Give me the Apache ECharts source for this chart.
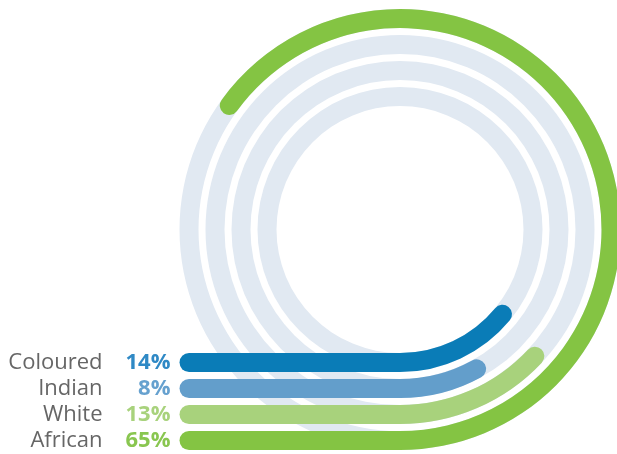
<!DOCTYPE html>
<html>
<head>
<meta charset="utf-8">
<title>Population groups</title>
<script src="https://cdn.jsdelivr.net/npm/echarts@6/dist/echarts.min.js"></script>
<style>
  html, body { margin: 0; padding: 0; background: #ffffff; }
  #chart { width: 617px; height: 454px; }
</style>
</head>
<body>
<div id="chart"></div>
<script>
// Population groups, innermost ring first
const categories = ['Coloured', 'Indian', 'White', 'African'];
// Share of each group, in percent of a full turn
const shares = [14, 8, 13, 65];

// Styling
const palette = ['#0a7cb7', '#639ecb', '#a8d27c', '#84c443'];
const labelPalette = ['#2f89c5', '#66a1cf', '#a8d27c', '#89c650'];
const trackColor = '#e1e9f2';
const nameColor = '#666666';
const fontFamily = 'Open Sans, Lato, sans-serif';

const cx = 400, cy = 229.5;      // ring centre
const rInner = 120, band = 26;   // ring layout
const ringWidth = 19;

const richStyles = {
  n: { color: nameColor, fontSize: 22, fontFamily: fontFamily, padding: [0, 10, 0, 0] }
};
labelPalette.forEach((c, i) => {
  richStyles['p' + i] = {
    color: c, fontSize: 22, fontWeight: 'bold', fontFamily: fontFamily,
    width: 58, align: 'right'
  };
});

const chart = echarts.init(document.getElementById('chart'), null, { renderer: 'canvas' });

chart.setOption({
  animation: false,
  backgroundColor: '#ffffff',
  polar: {
    center: [cx, cy],
    radius: [rInner, rInner + band * categories.length]
  },
  angleAxis: {
    type: 'value',
    min: 0,
    max: 100,
    startAngle: 270,
    clockwise: false,
    show: false
  },
  radiusAxis: {
    type: 'category',
    data: categories,
    show: false
  },
  grid: {
    left: 179.5,
    right: 617 - cx,
    top: cy + rInner,
    height: band * categories.length,
    containLabel: false
  },
  xAxis: {
    type: 'value',
    min: 0,
    max: 1,
    show: false
  },
  yAxis: {
    type: 'category',
    data: categories,
    inverse: true,
    axisLine: { show: false },
    axisTick: { show: false },
    splitLine: { show: false },
    axisLabel: {
      margin: 9,
      formatter: (value, idx) => `{n|${value}}{p${idx}|${shares[idx]}%}`,
      rich: richStyles
    }
  },
  series: [
    {
      // ring arcs, starting at six o'clock and turning anticlockwise
      type: 'bar',
      coordinateSystem: 'polar',
      data: shares.map((v, i) => ({ value: v, itemStyle: { color: palette[i] } })),
      barWidth: ringWidth,
      roundCap: true,
      showBackground: true,
      backgroundStyle: { color: trackColor },
      z: 2
    },
    {
      // straight legs leading into each ring from the labels
      type: 'bar',
      data: categories.map((c, i) => ({ value: 1, itemStyle: { color: palette[i] } })),
      barWidth: ringWidth,
      itemStyle: { borderRadius: [ringWidth / 2, 0, 0, ringWidth / 2] },
      z: 3
    }
  ]
});
</script>
</body>
</html>
